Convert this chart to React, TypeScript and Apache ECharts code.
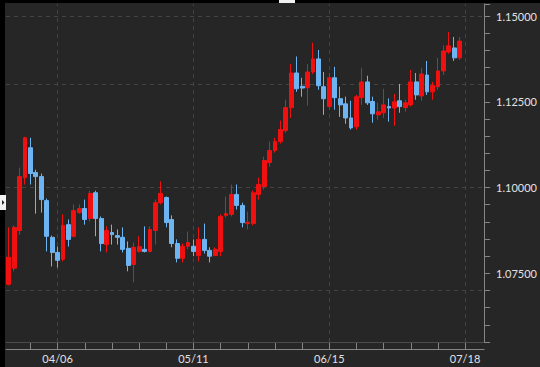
import React, { useEffect, useRef } from "react";
import * as echarts from "echarts";

const categories: string[] = [
  "03/24", "03/25", "03/26", "03/27", "03/30", "03/31",
  "04/01", "04/02", "04/03", "04/06", "04/07", "04/08", "04/09", "04/10",
  "04/13", "04/14", "04/15", "04/16", "04/17",
  "04/20", "04/21", "04/22", "04/23", "04/24",
  "04/27", "04/28", "04/29", "04/30", "05/01",
  "05/04", "05/05", "05/06", "05/07", "05/08",
  "05/11", "05/12", "05/13", "05/14", "05/15",
  "05/18", "05/19", "05/20", "05/21", "05/22",
  "05/25", "05/26", "05/27", "05/28", "05/29",
  "06/01", "06/02", "06/03", "06/04", "06/05",
  "06/08", "06/09", "06/10", "06/11", "06/12",
  "06/15", "06/16", "06/17", "06/18", "06/19",
  "06/22", "06/23", "06/24", "06/25", "06/26",
  "06/29", "06/30", "07/01", "07/02", "07/03",
  "07/06", "07/07", "07/08", "07/09", "07/10",
  "07/13", "07/14", "07/15", "07/16", "07/17",
  "07/18", "07/20", "07/21", "07/22",
];

const xTickLabels: string[] = ["04/06", "05/11", "06/15", "07/18"];
const yTickLabels: number[] = [1.075, 1.1, 1.125, 1.15];

const opens: number[] = [
  1.0718, 1.0765, 1.0875, 1.1029, 1.1116, 1.1044, 1.1032, 1.0962, 1.0855, 1.0811,
  1.0791, 1.0892, 1.0858, 1.0927, 1.0939, 1.0910, 1.0985, 1.0910, 1.0834, 1.0869,
  1.0860, 1.0855, 1.0823, 1.0776, 1.0814, 1.0820, 1.0814, 1.0875, 1.0956, 1.0971,
  1.0907, 1.0837, 1.0794, 1.0829, 1.0829, 1.0802, 1.0849, 1.0817, 1.0802, 1.0814,
  1.0919, 1.0922, 1.0980, 1.0948, 1.0895, 1.0895, 1.0980, 1.1003, 1.1073, 1.1108,
  1.1134, 1.1166, 1.1233, 1.1334, 1.1295, 1.1291, 1.1337, 1.1375, 1.1294, 1.1236,
  1.1320, 1.1259, 1.1244, 1.1203, 1.1177, 1.1262, 1.1308, 1.1251, 1.1212, 1.1218,
  1.1236, 1.1232, 1.1253, 1.1233, 1.1241, 1.1308, 1.1267, 1.1328, 1.1279, 1.1294,
  1.1340, 1.1395, 1.1407, 1.1378,
];
const closes: number[] = [
  1.0797, 1.0884, 1.1032, 1.1145, 1.1041, 1.1032, 1.0965, 1.0858, 1.0811, 1.0788,
  1.0890, 1.0849, 1.0933, 1.0939, 1.0907, 1.0983, 1.0910, 1.0837, 1.0875, 1.0863,
  1.0855, 1.0820, 1.0773, 1.0826, 1.0828, 1.0814, 1.0878, 1.0956, 1.0983, 1.0898,
  1.0837, 1.0794, 1.0829, 1.0840, 1.0814, 1.0849, 1.0817, 1.0800, 1.0820, 1.0916,
  1.0924, 1.0980, 1.0948, 1.0898, 1.0899, 1.0985, 1.1009, 1.1079, 1.1108, 1.1134,
  1.1169, 1.1233, 1.1334, 1.1288, 1.1290, 1.1337, 1.1375, 1.1297, 1.1259, 1.1320,
  1.1262, 1.1241, 1.1203, 1.1174, 1.1265, 1.1308, 1.1247, 1.1215, 1.1221, 1.1241,
  1.1232, 1.1250, 1.1236, 1.1247, 1.1308, 1.1270, 1.1331, 1.1279, 1.1297, 1.1340,
  1.1398, 1.1413, 1.1378, 1.1427,
];
const lows: number[] = [
  1.0715, 1.0756, 1.0862, 1.1009, 1.1009, 1.0924, 1.0927, 1.0814, 1.0770, 1.0767,
  1.0785, 1.0828, 1.0855, 1.0924, 1.0892, 1.0901, 1.0858, 1.0814, 1.0811, 1.0834,
  1.0834, 1.0811, 1.0756, 1.0724, 1.0811, 1.0811, 1.0811, 1.0834, 1.0951, 1.0884,
  1.0826, 1.0782, 1.0782, 1.0820, 1.0800, 1.0785, 1.0808, 1.0782, 1.0800, 1.0800,
  1.0913, 1.0916, 1.0936, 1.0884, 1.0878, 1.0890, 1.0965, 1.0994, 1.1061, 1.1102,
  1.1128, 1.1160, 1.1203, 1.1279, 1.1265, 1.1239, 1.1331, 1.1285, 1.1212, 1.1227,
  1.1227, 1.1206, 1.1186, 1.1169, 1.1169, 1.1241, 1.1241, 1.1189, 1.1198, 1.1203,
  1.1192, 1.1180, 1.1218, 1.1221, 1.1236, 1.1256, 1.1253, 1.1270, 1.1256, 1.1285,
  1.1328, 1.1390, 1.1369, 1.1372,
];
const highs: number[] = [
  1.0884, 1.0890, 1.1058, 1.1148, 1.1145, 1.1052, 1.1041, 1.0968, 1.0860, 1.0828,
  1.0922, 1.0907, 1.0951, 1.0951, 1.0965, 1.0991, 1.0991, 1.0916, 1.0887, 1.0892,
  1.0878, 1.0884, 1.0843, 1.0840, 1.0858, 1.0887, 1.0887, 1.0965, 1.1018, 1.0974,
  1.0919, 1.0849, 1.0837, 1.0872, 1.0849, 1.0884, 1.0895, 1.0826, 1.0826, 1.0922,
  1.0974, 1.1009, 1.1009, 1.0956, 1.0930, 1.0991, 1.1029, 1.1090, 1.1134, 1.1145,
  1.1195, 1.1256, 1.1360, 1.1382, 1.1320, 1.1360, 1.1422, 1.1401, 1.1337, 1.1334,
  1.1352, 1.1294, 1.1265, 1.1253, 1.1270, 1.1349, 1.1326, 1.1265, 1.1247, 1.1288,
  1.1260, 1.1273, 1.1302, 1.1256, 1.1343, 1.1334, 1.1349, 1.1369, 1.1308, 1.1378,
  1.1415, 1.1453, 1.1439, 1.1439,
];

const UP = "#f01010";
const DOWN = "#6db5f2";
const AXIS = "#858585";
const GRID = "#444444";
const TEXT = "#e2e2e2";

export default function App() {
  const ref = useRef<HTMLDivElement>(null);

  useEffect(() => {
    if (!ref.current) return;
    const chart = echarts.init(ref.current, undefined, { renderer: "svg" });
    const candles = opens.map((o, i) => [o, closes[i], lows[i], highs[i]]);
    const isMajor = (v: number) => yTickLabels.some((t) => Math.abs(t - v) < 1e-7);

    chart.setOption({
      animation: false,
      backgroundColor: "#262626",
      grid: { left: 6, right: 53, top: 4, bottom: 25, containLabel: false },
      xAxis: [
        {
          type: "category",
          data: categories,
          boundaryGap: true,
          offset: 7,
          axisLine: { show: true, lineStyle: { color: AXIS, width: 1 } },
          axisTick: {
            show: true,
            inside: true,
            length: 6,
            alignWithLabel: true,
            interval: (i: number) => i % 5 === 4,
            lineStyle: { color: AXIS },
          },
          axisLabel: {
            interval: (_i: number, v: string) => xTickLabels.includes(v),
            color: TEXT,
            fontSize: 11,
            fontFamily: "Lato, 'DejaVu Sans', sans-serif",
            margin: 4,
          },
          splitLine: { show: false },
        },
        {
          type: "category",
          data: categories,
          boundaryGap: true,
          position: "bottom",
          axisLine: { show: true, lineStyle: { color: "#4c4c4c", width: 1 } },
          axisTick: { show: false },
          axisLabel: { show: false },
          splitLine: { show: false },
        },
      ],
      yAxis: {
        type: "value",
        position: "right",
        min: 1.055,
        max: 1.1535,
        interval: 0.005,
        axisLine: { show: true, lineStyle: { color: AXIS } },
        axisTick: { show: true, length: 6, lineStyle: { color: AXIS } },
        axisLabel: {
          color: TEXT,
          fontSize: 11,
          fontFamily: "Lato, 'DejaVu Sans', sans-serif",
          margin: 12,
          formatter: (v: number) => (isMajor(v) ? v.toFixed(5) : ""),
        },
        splitLine: { show: false },
      },
      series: [
        {
          type: "line",
          data: [],
          z: 1,
          silent: true,
          markLine: {
            silent: true,
            symbol: ["none", "none"],
            label: { show: false },
            lineStyle: { color: GRID, type: [4, 4], width: 1 },
            data: [
              ...yTickLabels.map((v) => ({ yAxis: v })),
              ...xTickLabels.map((d) => ({ xAxis: d })),
            ],
          },
        },
        {
          type: "candlestick",
          z: 10,
          data: candles,
          barWidth: "80%",
          itemStyle: {
            color: UP,
            color0: DOWN,
            borderColor: UP,
            borderColor0: DOWN,
            borderWidth: 1,
          },
        },
      ],
      graphic: [
        { type: "rect", left: 0, top: 0, shape: { width: 540, height: 3 }, style: { fill: "#000" }, z: 100 },
        { type: "rect", left: 0, top: 0, shape: { width: 5, height: 367 }, style: { fill: "#000" }, z: 100 },
        { type: "rect", left: 279, top: 0, shape: { width: 16, height: 3 }, style: { fill: "#f2f2f2" }, z: 101 },
        { type: "rect", left: 0, top: 195, shape: { width: 6, height: 15 }, style: { fill: "#f2f2f2" }, z: 101 },
        {
          type: "polygon",
          shape: { points: [[2, 200], [4.5, 202.5], [2, 205]] },
          style: { fill: "#222" },
          z: 102,
        },
      ],
    });

    return () => chart.dispose();
  }, []);

  return (
    <div
      ref={ref}
      style={{ position: "fixed", left: 0, top: 0, width: 540, height: 367 }}
    />
  );
}
